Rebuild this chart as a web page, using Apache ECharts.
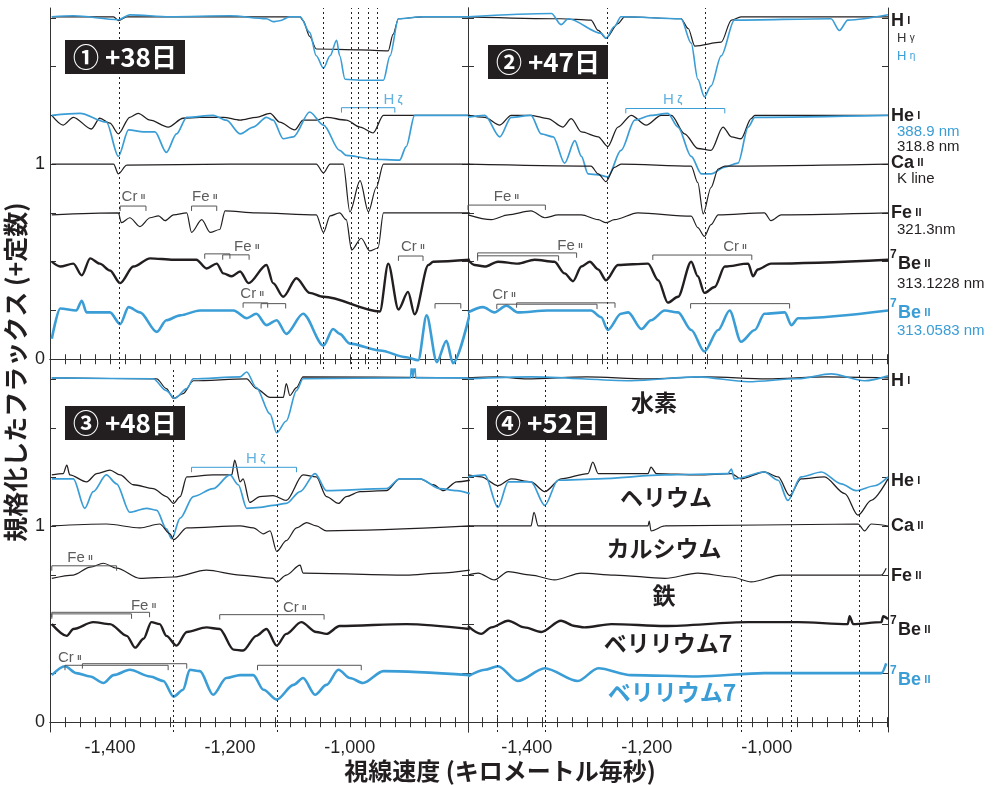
<!DOCTYPE html>
<html>
<head>
<meta charset="utf-8">
<title>7Be II spectra</title>
<script src="https://cdn.jsdelivr.net/npm/echarts@6/dist/echarts.min.js"></script>
</head>
<body style="margin:0;background:#fff">
<div id="main" style="width:997px;height:785px;"></div>
<script type="text/javascript">
// [velocity km/s, deviation from continuum]; each trace is shifted by its offset below
var traceOffsets = [1.755, 1.755, 1.25, 1.25, 1.0, 0.75, 0.5, 0.25];

// panel 1 (+38 days)
var p1_hK = [[-1497,0],[-1394,0],[-1386,-0.02],[-1372,0],[-1183,0],[-1083,0],[-1078,-0.02],[-1067,-0.1],[-1056,-0.165],[-983,-0.17],[-936,-0.175],[-928,-0.09],[-919,-0.01],[-878,0],[-800,0]];
var p1_hB = [[-1497,0],[-1461,0.005],[-1386,-0.015],[-1367,0.01],[-1300,0],[-1200,0.005],[-1139,-0.01],[-1128,-0.025],[-1117,-0.02],[-1100,0],[-1083,0],[-1067,-0.08],[-1056,-0.2],[-1044,-0.264],[-1033,-0.2],[-1022,-0.12],[-1017,-0.2],[-1008,-0.32],[-983,-0.325],[-944,-0.325],[-933,-0.2],[-919,-0.01],[-878,0],[-800,0]];
var p1_heK = [[-1497,0],[-1478,-0.05],[-1461,-0.01],[-1431,-0.07],[-1417,-0.015],[-1400,-0.04],[-1386,-0.095],[-1367,-0.01],[-1353,0.01],[-1333,-0.025],[-1303,-0.06],[-1278,-0.015],[-1250,-0.01],[-1211,-0.01],[-1183,-0.025],[-1156,-0.01],[-1133,0.01],[-1117,-0.035],[-1092,-0.075],[-1078,-0.025],[-1056,-0.025],[-1039,-0.01],[-1006,-0.025],[-983,-0.06],[-961,-0.09],[-944,0],[-800,0]];
var p1_heB = [[-1497,0],[-1450,0.01],[-1406,-0.035],[-1386,-0.21],[-1369,-0.075],[-1344,-0.085],[-1325,-0.085],[-1306,-0.19],[-1289,-0.095],[-1272,-0.01],[-1228,0],[-1206,-0.025],[-1183,-0.095],[-1161,-0.06],[-1139,-0.01],[-1128,-0.025],[-1111,-0.12],[-1094,-0.11],[-1067,0.017],[-1044,-0.05],[-1017,-0.18],[-1006,-0.205],[-961,-0.225],[-917,-0.23],[-906,-0.16],[-892,0],[-800,0]];
var p1_ca = [[-1497,0],[-1394,0],[-1386,-0.05],[-1372,-0.005],[-1200,0],[-1056,0],[-1044,-0.045],[-1033,0],[-1011,0],[-1000,-0.245],[-983,-0.085],[-969,-0.245],[-956,-0.12],[-944,0],[-800,0]];
var p1_fe = [[-1497,-0.01],[-1386,0],[-1381,-0.05],[-1367,-0.025],[-1350,-0.07],[-1333,-0.025],[-1319,-0.015],[-1308,-0.04],[-1294,-0.01],[-1272,0],[-1264,-0.1],[-1247,-0.035],[-1233,-0.1],[-1217,-0.085],[-1208,0.01],[-1156,0],[-1056,-0.01],[-1044,-0.1],[-1033,-0.015],[-1017,0],[-1006,-0.035],[-997,-0.19],[-981,-0.13],[-967,-0.195],[-953,-0.18],[-944,0],[-800,0]];
var p1_beK = [[-1497,0],[-1483,-0.025],[-1461,-0.01],[-1447,-0.07],[-1433,0.017],[-1417,-0.01],[-1400,-0.045],[-1383,-0.11],[-1361,-0.025],[-1333,0.017],[-1294,0.01],[-1256,0.01],[-1239,-0.035],[-1222,-0.01],[-1211,-0.06],[-1197,-0.075],[-1183,-0.05],[-1169,-0.11],[-1139,-0.017],[-1128,-0.11],[-1111,-0.18],[-1089,-0.085],[-1067,-0.16],[-1044,-0.18],[-950,-0.255],[-936,-0.01],[-919,-0.245],[-903,-0.155],[-892,-0.27],[-869,-0.017],[-861,0],[-800,0.01]];
var p1_beB = [[-1497,-0.145],[-1483,0.01],[-1456,0],[-1447,0.05],[-1439,-0.01],[-1400,-0.01],[-1383,-0.07],[-1369,0.017],[-1350,-0.01],[-1322,-0.11],[-1306,-0.05],[-1283,-0.025],[-1250,0],[-1194,0],[-1172,-0.04],[-1156,-0.017],[-1139,-0.075],[-1122,-0.05],[-1106,-0.12],[-1078,-0.017],[-1044,-0.18],[-1028,-0.095],[-1017,-0.12],[-1000,-0.17],[-950,-0.205],[-906,-0.24],[-886,-0.255],[-872,-0.025],[-855,-0.265],[-839,-0.155],[-828,-0.27],[-800,-0.017]];

// panel 2 (+47 days)
var p2_hK = [[-1498,0],[-1343,-0.01],[-1293,-0.017],[-1281,-0.07],[-1268,-0.11],[-1248,-0.035],[-1237,0],[-1143,-0.01],[-1131,-0.06],[-1120,-0.15],[-1076,-0.13],[-1059,-0.017],[-1043,0],[-798,0]];
var p2_hB = [[-1498,0],[-1359,0.017],[-1343,-0.04],[-1331,-0.01],[-1276,-0.085],[-1268,-0.11],[-1254,-0.05],[-1243,0],[-1143,-0.01],[-1126,-0.135],[-1115,-0.32],[-1104,-0.41],[-1093,-0.355],[-1076,-0.2],[-1054,-0.017],[-893,-0.01],[-879,-0.07],[-865,-0.017],[-798,0.01]];
var p2_heK = [[-1498,0],[-1470,-0.01],[-1445,-0.05],[-1426,0],[-1393,0],[-1365,-0.017],[-1340,-0.06],[-1326,-0.017],[-1309,-0.085],[-1281,-0.11],[-1265,-0.16],[-1248,-0.06],[-1226,0],[-1201,-0.05],[-1176,0],[-1159,0],[-1137,-0.095],[-1115,-0.17],[-1093,-0.18],[-1073,-0.06],[-1059,-0.11],[-1043,-0.12],[-1026,-0.017],[-1020,0],[-798,0]];
var p2_heB = [[-1498,-0.01],[-1470,0],[-1445,-0.11],[-1426,-0.01],[-1393,0],[-1376,-0.095],[-1356,-0.11],[-1337,-0.245],[-1320,-0.13],[-1309,-0.21],[-1298,-0.3],[-1281,-0.305],[-1265,-0.315],[-1243,-0.18],[-1220,-0.025],[-1193,0],[-1165,0.01],[-1148,-0.06],[-1126,-0.21],[-1109,-0.3],[-1093,-0.3],[-1070,-0.265],[-1048,-0.245],[-1031,-0.06],[-1020,-0.01],[-798,0]];
var p2_ca = [[-1498,0],[-1293,-0.01],[-1281,-0.05],[-1268,-0.09],[-1254,-0.017],[-1243,0],[-1126,-0.01],[-1115,-0.095],[-1106,-0.255],[-1093,-0.12],[-1081,-0.025],[-1070,-0.01],[-798,0]];
var p2_fe = [[-1498,-0.01],[-1459,-0.035],[-1431,-0.01],[-1393,0.01],[-1370,-0.025],[-1348,-0.01],[-1309,-0.01],[-1281,-0.035],[-1268,-0.05],[-1254,-0.035],[-1215,0],[-1126,-0.017],[-1115,-0.075],[-1104,-0.12],[-1093,-0.06],[-1081,-0.01],[-1004,0],[-993,-0.04],[-976,-0.01],[-798,0]];
var p2_beK = [[-1498,0.01],[-1487,-0.017],[-1470,-0.025],[-1448,0],[-1415,-0.01],[-1387,0.01],[-1354,0],[-1337,-0.06],[-1323,-0.1],[-1309,-0.025],[-1295,0],[-1281,-0.04],[-1268,-0.095],[-1248,-0.017],[-1198,-0.01],[-1181,-0.095],[-1165,-0.21],[-1148,-0.18],[-1126,0],[-1115,-0.075],[-1104,-0.16],[-1087,-0.13],[-1070,-0.025],[-1031,-0.01],[-1023,-0.075],[-1015,-0.04],[-993,-0.01],[-798,0.01]];
var p2_beB = [[-1498,-0.01],[-1473,0.017],[-1454,-0.01],[-1434,0.025],[-1415,-0.01],[-1365,0],[-1293,0],[-1276,-0.035],[-1265,-0.1],[-1243,-0.017],[-1231,-0.01],[-1209,-0.095],[-1193,-0.05],[-1170,0],[-1148,-0.01],[-1126,-0.1],[-1104,-0.21],[-1081,-0.1],[-1062,0],[-1043,-0.16],[-1020,-0.1],[-1004,-0.017],[-970,-0.01],[-959,-0.075],[-948,-0.04],[-798,0]];

// panel 3 (+48 days)
var p3_hK = [[-1497,0],[-1322,-0.005],[-1306,-0.055],[-1294,-0.105],[-1278,-0.08],[-1261,-0.015],[-1172,-0.005],[-1156,-0.055],[-1133,-0.1],[-1111,-0.1],[-1106,-0.03],[-1100,-0.09],[-1089,-0.05],[-1078,0.005],[-800,0]];
var p3_hB = [[-1497,0],[-1328,-0.005],[-1306,-0.065],[-1292,-0.105],[-1272,-0.055],[-1261,-0.005],[-1183,0.005],[-1172,0.03],[-1156,-0.05],[-1133,-0.185],[-1122,-0.28],[-1106,-0.22],[-1089,-0.065],[-1078,-0.005],[-899,0],[-897,0.07],[-895,0],[-892,0.07],[-890,0],[-800,0]];
var p3_heK = [[-1497,0.01],[-1478,0.017],[-1472,0.06],[-1467,0.01],[-1439,-0.025],[-1422,0.017],[-1400,0.035],[-1383,0.01],[-1361,-0.04],[-1328,-0.06],[-1306,-0.1],[-1294,-0.135],[-1283,-0.1],[-1272,0],[-1228,0.01],[-1197,0.01],[-1192,0.085],[-1183,-0.025],[-1178,-0.01],[-1167,-0.13],[-1150,-0.1],[-1128,-0.095],[-1106,-0.12],[-1078,0.01],[-1056,0],[-1039,-0.1],[-1019,-0.135],[-1006,-0.1],[-983,-0.075],[-939,-0.07],[-917,-0.01],[-883,-0.01],[-861,-0.04],[-844,-0.07],[-822,-0.025],[-800,-0.017]];
var p3_heB = [[-1497,-0.01],[-1461,-0.01],[-1442,-0.16],[-1428,-0.075],[-1406,0.01],[-1389,-0.035],[-1367,-0.18],[-1339,-0.16],[-1322,-0.17],[-1306,-0.265],[-1297,-0.315],[-1283,-0.21],[-1261,-0.1],[-1228,-0.06],[-1200,0.01],[-1186,-0.04],[-1172,-0.16],[-1150,-0.155],[-1128,-0.145],[-1106,-0.135],[-1083,-0.075],[-1058,0.017],[-1039,-0.07],[-939,-0.06],[-917,-0.01],[-883,-0.01],[-850,-0.06],[-822,-0.07],[-800,-0.085]];
var p3_ca = [[-1497,0],[-1406,0.01],[-1350,-0.01],[-1317,0.01],[-1300,-0.04],[-1294,-0.07],[-1272,-0.01],[-1183,0],[-1161,-0.01],[-1144,-0.04],[-1133,-0.025],[-1122,-0.13],[-1106,-0.075],[-1089,-0.01],[-1072,0.017],[-1056,0],[-1039,-0.025],[-800,0]];
var p3_fe = [[-1497,-0.017],[-1461,0],[-1433,0.04],[-1411,0.06],[-1389,0.035],[-1350,-0.017],[-1294,-0.01],[-1239,0.025],[-1183,0],[-1128,-0.017],[-1122,-0.035],[-1106,0],[-1083,0.05],[-1078,0.01],[-906,0],[-850,0.01],[-800,0.025]];
var p3_beK = [[-1497,0],[-1472,-0.06],[-1461,-0.025],[-1428,0.01],[-1400,0],[-1372,-0.06],[-1358,-0.12],[-1344,-0.075],[-1331,0.01],[-1317,0],[-1306,-0.06],[-1289,-0.11],[-1272,-0.04],[-1239,-0.017],[-1217,-0.025],[-1194,-0.13],[-1178,-0.135],[-1156,-0.06],[-1139,-0.025],[-1122,-0.11],[-1106,-0.05],[-1081,0.01],[-1056,-0.04],[-1039,-0.05],[-1017,-0.01],[-906,0],[-800,-0.025]];
var p3_beB = [[-1497,-0.01],[-1475,0.035],[-1456,0],[-1433,-0.017],[-1411,-0.05],[-1394,-0.01],[-1367,0.017],[-1333,-0.017],[-1311,-0.04],[-1294,-0.12],[-1278,-0.085],[-1267,0.017],[-1250,0.01],[-1228,-0.11],[-1206,-0.025],[-1183,-0.01],[-1161,-0.01],[-1144,-0.085],[-1122,-0.135],[-1094,-0.06],[-1078,-0.025],[-1058,-0.11],[-1039,-0.06],[-1019,0.017],[-1000,-0.025],[-978,-0.05],[-944,0.01],[-800,-0.01]];

// panel 4 (+52 days)
var p4_hK = [[-1498,0],[-1450,0.005],[-1400,-0.005],[-1300,0.005],[-1200,-0.005],[-1100,0.005],[-1000,-0.005],[-900,0.005],[-798,0]];
var p4_hB = [[-1498,-0.005],[-1393,0.005],[-1226,-0.015],[-1115,0.005],[-1031,-0.02],[-948,-0.005],[-893,0.02],[-837,-0.015],[-798,0.01]];
var p4_heK = [[-1498,0.01],[-1476,0],[-1448,-0.045],[-1426,-0.01],[-1393,-0.025],[-1370,-0.075],[-1343,-0.01],[-1298,0.017],[-1290,0.075],[-1281,0.017],[-1198,0.017],[-1193,0.05],[-1184,0.017],[-1115,0.01],[-1059,0.017],[-1043,-0.01],[-1004,0.025],[-981,0],[-962,-0.095],[-943,-0.01],[-904,0],[-870,-0.085],[-848,-0.195],[-826,-0.12],[-798,-0.01]];
var p4_heB = [[-1498,0],[-1470,0.01],[-1448,-0.155],[-1431,-0.025],[-1393,-0.025],[-1370,-0.145],[-1348,-0.017],[-1281,-0.01],[-1170,0.01],[-1065,0.017],[-1059,0.04],[-1054,-0.01],[-1004,0.025],[-981,-0.017],[-965,-0.12],[-943,0],[-909,0.025],[-876,-0.035],[-851,-0.07],[-820,-0.045],[-798,0]];
var p4_ca = [[-1498,0],[-1393,0],[-1388,0.07],[-1381,0],[-1198,0],[-1196,0.025],[-1193,-0.025],[-1170,0],[-848,0.01],[-837,-0.025],[-826,0.01],[-798,0]];
var p4_fe = [[-1498,0],[-1481,0.01],[-1454,-0.025],[-1431,0.017],[-1393,0],[-1354,-0.025],[-1309,0.01],[-1254,0],[-1170,-0.017],[-1115,0.01],[-1059,-0.01],[-1026,-0.035],[-976,0],[-893,0],[-809,0],[-801,0.035]];
var p4_beK = [[-1498,-0.01],[-1476,-0.05],[-1459,-0.017],[-1431,0.017],[-1404,-0.017],[-1376,-0.04],[-1343,0.017],[-1320,-0.01],[-1304,-0.017],[-1259,0],[-1170,-0.01],[-1031,0.01],[-948,0.01],[-865,0],[-862,0.04],[-856,0],[-809,0.01],[-806,0.04],[-798,0.025]];
var p4_beB = [[-1498,-0.017],[-1470,0.017],[-1448,0.035],[-1415,-0.04],[-1370,0.025],[-1315,-0.04],[-1281,0.025],[-1226,-0.01],[-1115,-0.017],[-1004,0],[-893,0],[-809,0],[-801,0.05]];

// dotted marker velocities
var p1Dots = [-1385, -1044, -997, -986, -969, -954];
var p2Dots = [-1266, -1102];
var p3Dots = [-1294, -1121];
var p4Dots = [-1450, -1370, -1043, -960, -846];

// brackets [from, to, level, isBlue]
var p1Brackets = [[-1383,-1340,0.785,0],[-1264,-1222,0.785,0],[-1242,-1200,0.54,0],[-1212,-1168,0.535,0],[-919,-878,0.529,0],[-1178,-1137,0.289,0],[-1148,-1107,0.285,0],[-858,-815,0.285,0],[-1014,-925,1.289,1]];
var p2Brackets = [[-1498,-1369,0.79,0],[-1482,-1317,0.545,0],[-1482,-1347,0.53,0],[-1190,-1025,0.534,0],[-1450,-1283,0.282,0],[-1417,-1253,0.289,0],[-1127,-962,0.285,0],[-1235,-1070,1.285,1]];
var p3Brackets = [[-1497,-1389,0.797,0],[-1497,-1364,0.552,0],[-1497,-1334,0.56,0],[-1217,-1043,0.548,0],[-1475,-1303,0.29,0],[-1446,-1272,0.298,0],[-1154,-981,0.29,0],[-1264,-1089,1.299,1]];
var p4Brackets = [];

// bracket labels [velocity, level, element, ion, isBlue]
var p1Labels = [[-1361,0.83,'Cr','II',0],[-1242,0.83,'Fe','II',0],[-1172,0.578,'Fe','II',0],[-895,0.575,'Cr','II',0],[-1163,0.333,'Cr','II',0],[-928,1.33,'H','ζ',1]];
var p2Labels = [[-1434,0.83,'Fe','II',0],[-1328,0.58,'Fe','II',0],[-1053,0.575,'Cr','II',0],[-1438,0.33,'Cr','II',0],[-1157,1.33,'H','ζ',1]];
var p3Labels = [[-1450,0.84,'Fe','II',0],[-1344,0.594,'Fe','II',0],[-1092,0.585,'Cr','II',0],[-1467,0.33,'Cr','II',0],[-1157,1.34,'H','ζ',1]];
var p4Labels = [];

var xLabelValues = [-1400, -1200, -1000];
var panelTitles = ['① +38日', '② +47日', '③ +48日', '④ +52日'];

var BLACK = '#231f20', BLUE = '#3a9dd6';
var traceStyles = [
    {color: BLACK, width: 1.2}, {color: BLUE, width: 1.6},
    {color: BLACK, width: 1.3}, {color: BLUE, width: 1.7},
    {color: BLACK, width: 1.2}, {color: BLACK, width: 1.2},
    {color: BLACK, width: 2.4}, {color: BLUE, width: 2.6}
];

var panels = [
    {grid: {left: 50, top: 8, width: 418, height: 361}, min: -1500, max: -803,
     traces: [p1_hK, p1_hB, p1_heK, p1_heB, p1_ca, p1_fe, p1_beK, p1_beB], dots: p1Dots, brackets: p1Brackets, labels: p1Labels, left: true, bottom: false},
    {grid: {left: 468, top: 8, width: 420, height: 361}, min: -1498, max: -798,
     traces: [p2_hK, p2_hB, p2_heK, p2_heB, p2_ca, p2_fe, p2_beK, p2_beB], dots: p2Dots, brackets: p2Brackets, labels: p2Labels, left: false, bottom: false},
    {grid: {left: 50, top: 369, width: 418, height: 363}, min: -1500, max: -803,
     traces: [p3_hK, p3_hB, p3_heK, p3_heB, p3_ca, p3_fe, p3_beK, p3_beB], dots: p3Dots, brackets: p3Brackets, labels: p3Labels, left: true, bottom: true},
    {grid: {left: 468, top: 369, width: 420, height: 363}, min: -1498, max: -798,
     traces: [p4_hK, p4_hB, p4_heK, p4_heB, p4_ca, p4_fe, p4_beK, p4_beB], dots: p4Dots, brackets: p4Brackets, labels: p4Labels, left: false, bottom: true}
];

function xTicks(min, max) {
    var t = [];
    for (var v = -1500; v <= -800; v += 25) if (v >= min && v <= max) t.push(v);
    return t;
}
var yTicks = [0, 0.25, 0.5, 0.75, 1, 1.25, 1.5, 1.75];

function fmtVel(v) {
    var s = String(Math.abs(v));
    return '-' + s.slice(0, s.length - 3) + ',' + s.slice(-3);
}

var grids = [], xAxes = [], yAxes = [], series = [];
var axisLine = {show: true, lineStyle: {color: '#333', width: 1}};

panels.forEach(function (p, g) {
    grids.push(p.grid);
    ['bottom', 'top'].forEach(function (pos) {
        xAxes.push({
            gridIndex: g, type: 'value', min: p.min, max: p.max, position: pos,
            axisLine: axisLine,
            axisTick: {inside: true, length: 5, customValues: xTicks(p.min, p.max), lineStyle: {color: '#333'}},
            axisLabel: {show: pos === 'bottom' && p.bottom, customValues: xLabelValues, formatter: fmtVel,
                fontSize: 18, color: '#222', margin: 7, fontFamily: 'Liberation Sans, sans-serif'},
            splitLine: {show: false}
        });
    });
    ['left', 'right'].forEach(function (pos) {
        yAxes.push({
            gridIndex: g, type: 'value', min: -0.05, max: 1.8, position: pos,
            axisLine: axisLine,
            axisTick: {inside: true, length: 6, customValues: yTicks, lineStyle: {color: '#333'}},
            axisLabel: {show: pos === 'left' && p.left, customValues: [0, 1], fontSize: 18, color: '#222', margin: 5,
                fontFamily: 'Liberation Sans, sans-serif'},
            splitLine: {show: false}
        });
    });

    p.traces.forEach(function (tr, i) {
        var s = {
            type: 'line', xAxisIndex: 2 * g, yAxisIndex: 2 * g,
            data: tr.map(function (pt) { return [pt[0], traceOffsets[i] + pt[1]]; }),
            showSymbol: false, symbol: 'none', smooth: 0.3, smoothMonotone: 'x',
            lineStyle: {color: traceStyles[i].color, width: traceStyles[i].width},
            silent: true, z: 3
        };
        if (i === 4) {
            s.markLine = {
                silent: true, symbol: ['none', 'none'], label: {show: false},
                lineStyle: {type: [2, 3], color: '#222', width: 1},
                data: p.dots.map(function (v) { return {xAxis: v}; })
            };
        }
        series.push(s);
    });

    p.brackets.forEach(function (b) {
        var c = b[3] ? BLUE : '#555';
        series.push({
            type: 'line', xAxisIndex: 2 * g, yAxisIndex: 2 * g, symbol: 'none', silent: true, z: 4,
            data: [[b[0], b[2] - 0.025], [b[0], b[2]], [b[1], b[2]], [b[1], b[2] - 0.025]],
            lineStyle: {color: c, width: 1}
        });
    });

    if (p.labels.length) {
        series.push({
            type: 'scatter', xAxisIndex: 2 * g, yAxisIndex: 2 * g, symbolSize: 1, silent: true, z: 5,
            itemStyle: {color: 'rgba(0,0,0,0)'},
            data: p.labels.map(function (l) {
                var c = l[4] ? BLUE : '#333';
                return {
                    value: [l[0], l[1]],
                    label: {
                        show: true, position: 'inside',
                        formatter: '{a|' + l[2] + '} {b|' + l[3] + '}',
                        rich: {
                            a: {fontSize: 15, color: c, fontFamily: 'Liberation Sans, sans-serif'},
                            b: {fontSize: l[4] ? 11 : 8, color: c, fontFamily: 'Liberation Sans, sans-serif', fontWeight: 'bold'}
                        }
                    }
                };
            })
        });
    }
});

// text decorations
var graphics = [];
var titleBoxes = [[65, 40], [488, 45], [65, 406], [487, 406]];
titleBoxes.forEach(function (b, i) {
    graphics.push({type: 'rect', shape: {x: b[0], y: b[1], width: 120, height: 34}, style: {fill: '#231f20'}, z: 10});
    graphics.push({type: 'text', x: b[0] + 60, y: b[1] + 17, z: 11,
        style: {text: panelTitles[i], fill: '#fff', font: 'bold 26px "Noto Sans CJK JP", sans-serif',
            textAlign: 'center', textVerticalAlign: 'middle'}});
});

function ionLabel(x, y, el, ion, color, sup) {
    if (sup) {
        graphics.push({type: 'text', x: x - 1, y: y - 9, style: {text: sup, fill: color,
            font: 'bold 12px "Liberation Sans", sans-serif', textAlign: 'left', textVerticalAlign: 'middle'}});
        x += 7;
    }
    graphics.push({type: 'text', x: x, y: y, style: {
        text: '{a|' + el + '} {b|' + ion + '}', textAlign: 'left', textVerticalAlign: 'middle',
        rich: {
            a: {fill: color, fontSize: 18, fontWeight: 'bold', fontFamily: 'Liberation Sans, sans-serif'},
            b: {fill: color, fontSize: 11, fontWeight: 'bold', fontFamily: 'Liberation Sans, sans-serif'}
        }}});
}
function subLabel(x, y, text, color, size) {
    graphics.push({type: 'text', x: x, y: y, style: {text: text, fill: color,
        font: (size || 15) + 'px "Liberation Sans", sans-serif', textAlign: 'left', textVerticalAlign: 'middle'}});
}

ionLabel(891, 21, 'H', 'I', BLACK);
graphics.push({type: 'text', x: 897, y: 38, style: {text: '{a|H} {b|γ}', textVerticalAlign: 'middle',
    rich: {a: {fill: '#333', fontSize: 13, fontFamily: 'Liberation Sans'}, b: {fill: '#333', fontSize: 10, fontFamily: 'Liberation Sans'}}}});
graphics.push({type: 'text', x: 897, y: 56, style: {text: '{a|H} {b|η}', textVerticalAlign: 'middle',
    rich: {a: {fill: BLUE, fontSize: 13, fontFamily: 'Liberation Sans'}, b: {fill: BLUE, fontSize: 10, fontFamily: 'Liberation Sans'}}}});
ionLabel(891, 116, 'He', 'I', BLACK);
subLabel(897, 132, '388.9 nm', BLUE);
subLabel(897, 147, '318.8 nm', BLACK);
ionLabel(891, 163, 'Ca', 'II', BLACK);
subLabel(897, 179, 'K line', BLACK);
ionLabel(891, 213, 'Fe', 'II', BLACK);
subLabel(897, 230, '321.3nm', BLACK);
ionLabel(891, 264, 'Be', 'II', BLACK, '7');
subLabel(897, 284, '313.1228 nm', BLACK);
ionLabel(891, 313, 'Be', 'II', BLUE, '7');
subLabel(897, 331, '313.0583 nm', BLUE);

ionLabel(891, 381, 'H', 'I', BLACK);
ionLabel(891, 481, 'He', 'I', BLACK);
ionLabel(891, 526, 'Ca', 'II', BLACK);
ionLabel(891, 576, 'Fe', 'II', BLACK);
ionLabel(891, 630, 'Be', 'II', BLACK, '7');
ionLabel(891, 680, 'Be', 'II', BLUE, '7');

var jpLabels = [[654, 402, '水素', BLACK], [666, 497, 'ヘリウム', BLACK], [664, 548, 'カルシウム', BLACK],
    [664, 595, '鉄', BLACK], [668, 643, 'ベリリウム7', BLACK], [672, 692, 'ベリリウム7', BLUE]];
jpLabels.forEach(function (l) {
    graphics.push({type: 'text', x: l[0], y: l[1], z: 6, style: {text: l[2], fill: l[3],
        font: 'bold 23px "Noto Sans CJK JP", sans-serif', textAlign: 'center', textVerticalAlign: 'middle'}});
});

graphics.push({type: 'text', x: 500, y: 771, style: {text: '視線速度 (キロメートル毎秒)', fill: '#231f20',
    font: 'bold 24px "Noto Sans CJK JP", sans-serif', textAlign: 'center', textVerticalAlign: 'middle'}});
graphics.push({type: 'text', x: 15, y: 372, rotation: Math.PI / 2, style: {text: '規格化したフラックス (+定数)', fill: '#231f20',
    font: 'bold 25px "Noto Sans CJK JP", sans-serif', textAlign: 'center', textVerticalAlign: 'middle'}});

var myChart = echarts.init(document.getElementById('main'));
myChart.setOption({
    animation: false,
    backgroundColor: '#fff',
    grid: grids,
    xAxis: xAxes,
    yAxis: yAxes,
    series: series,
    graphic: graphics
});
</script>
</body>
</html>
